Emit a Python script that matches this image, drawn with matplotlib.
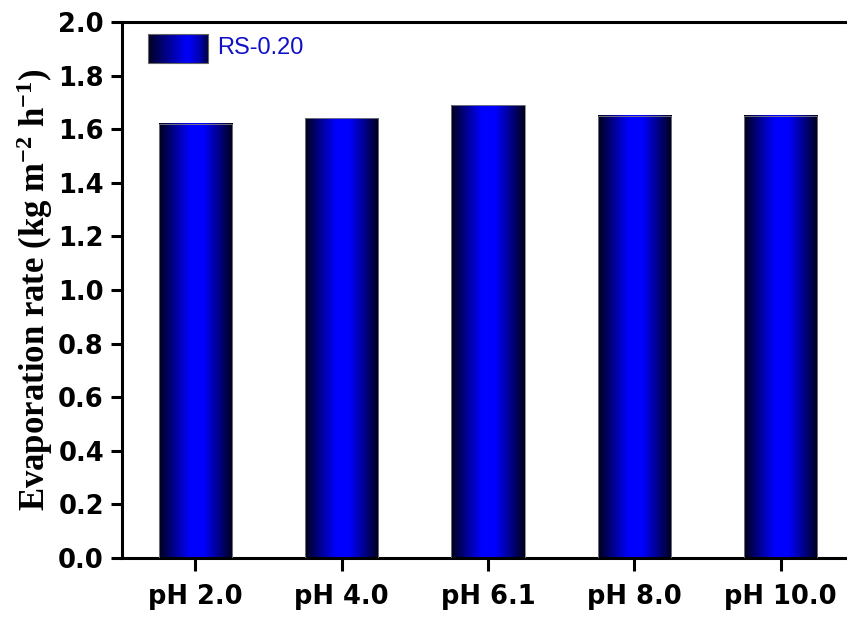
import numpy as np
import matplotlib
matplotlib.use("Agg")
import matplotlib.pyplot as plt
from matplotlib.colors import LinearSegmentedColormap

# evaporation rate of RS-0.20 at different pH
categories = ["pH 2.0", "pH 4.0", "pH 6.1", "pH 8.0", "pH 10.0"]
rates = [1.62, 1.64, 1.69, 1.65, 1.65]
series_name = "RS-0.20"

plt.rcParams["mathtext.fontset"] = "custom"
plt.rcParams["mathtext.rm"] = "Liberation Serif:bold"
plt.rcParams["mathtext.it"] = "Liberation Serif:bold"
plt.rcParams["mathtext.default"] = "rm"

# dark edges, bright blue in the middle
shade = LinearSegmentedColormap.from_list(
    "shade", [(0.0, (0.0, 0.0, 0.10)), (0.2, (0.0, 0.0, 0.55)), (0.42, (0.0, 0.0, 1.0)),
              (0.6, (0.0, 0.0, 1.0)), (0.85, (0.0, 0.0, 0.45)), (1.0, (0.0, 0.0, 0.10))])
grad = np.linspace(0, 1, 512).reshape(1, -1)

fig = plt.figure(figsize=(8.47, 6.19), dpi=100)
ax = fig.add_axes([122 / 847, 61 / 619, 732 / 847, 536 / 619])

x = np.arange(1, len(categories) + 1)
bars = ax.bar(x, rates, width=0.5, facecolor="none", edgecolor="#808080", linewidth=0.6, zorder=3)
for b in bars:
    x0, y0 = b.get_x(), b.get_y()
    ax.imshow(grad, cmap=shade, aspect="auto", interpolation="bilinear",
              extent=(x0, x0 + b.get_width(), y0, y0 + b.get_height()), zorder=2)

# legend key drawn by hand so it keeps the gradient
key_cmap = LinearSegmentedColormap.from_list(
    "key", [(0.0, (0.0, 0.0, 0.12)), (0.35, (0.0, 0.0, 0.6)), (0.65, (0.0, 0.0, 1.0)),
            (0.85, (0.0, 0.0, 0.7)), (1.0, (0.0, 0.0, 0.2))])
ax.imshow(grad, cmap=key_cmap, aspect="auto", interpolation="bilinear",
          extent=(0.0355, 0.1175, 0.9235, 0.9776), transform=ax.transAxes, zorder=4)
ax.add_patch(plt.Rectangle((0.0355, 0.9235), 0.082, 0.0541, transform=ax.transAxes,
                           fill=False, edgecolor="#666666", linewidth=0.8, zorder=5))
ax.text(0.1295, 0.951, series_name, transform=ax.transAxes, color="#1010c8",
        fontsize=17, family="Liberation Sans", va="center", ha="left")

ax.set_xlim(0.5, 5.5)
ax.set_ylim(0, 2.0)
ax.set_yticks(np.arange(0, 2.01, 0.2))
ax.set_yticklabels([f"{v:.1f}" for v in np.arange(0, 2.01, 0.2)])
ax.set_xticks(x)
ax.set_xticklabels(categories)

for lab in ax.get_xticklabels() + ax.get_yticklabels():
    lab.set_fontfamily("DejaVu Sans")
    lab.set_fontweight("bold")
    lab.set_fontsize(18.5)

ax.tick_params(axis="y", direction="out", length=8, width=2.2, pad=5)
ax.tick_params(axis="x", direction="out", length=9, width=2.2, pad=10)
for s in ax.spines.values():
    s.set_linewidth(2.2)

ax.set_ylabel("Evaporation rate (kg m$^{-2}$ h$^{-1}$)", fontsize=25,
              family="Liberation Serif", fontweight="bold", labelpad=2)

fig.savefig("out.png", dpi=100)
